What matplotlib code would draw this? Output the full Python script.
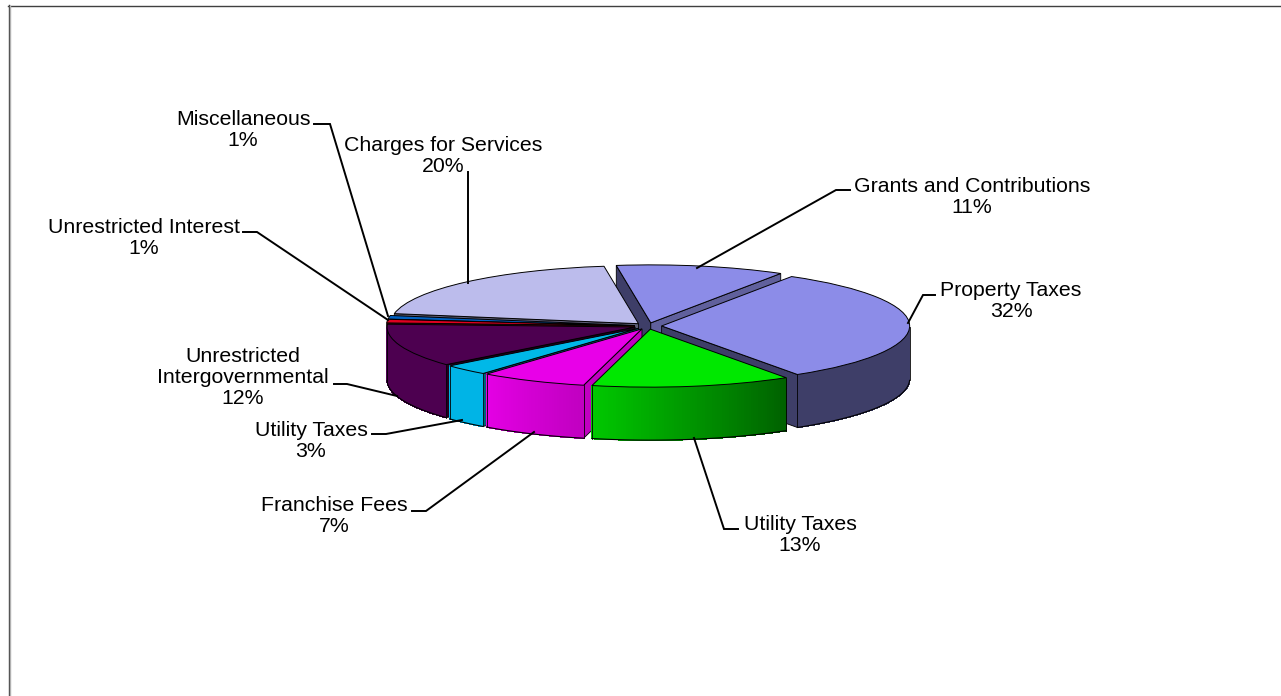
import numpy as np
import matplotlib
matplotlib.use("Agg")
import matplotlib.pyplot as plt
from matplotlib.colors import to_rgb

plt.rcParams['font.family'] = ['Liberation Sans', 'DejaVu Sans']

W, H = 1281, 696

# datos del grafico
categorias = ["Grants and Contributions", "Property Taxes", "Utility Taxes", "Franchise Fees", "Utility Taxes",
              "Unrestricted\nIntergovernmental", "Unrestricted Interest", "Miscellaneous", "Charges for Services"]
valores = [11, 32, 13, 7, 3, 12, 1, 1, 20]

# colores: tapa, pared izquierda, pared derecha, caras radiales
tapa = ["#8c8ce8", "#8c8ce8", "#00e800", "#e800e8", "#00b8e8", "#4d0050", "#e00020", "#0060c0", "#bcbcec"]
pared_izq = ["#3e3e68", "#3e3e68", "#00c800", "#e400e4", "#00b4e6", "#4d0050", "#a00010", "#004080", "#5e5e76"]
pared_der = ["#3e3e68", "#3e3e68", "#006000", "#c000c0", "#00b4e6", "#4d0050", "#a00010", "#004080", "#5e5e76"]
cara = ["#3e3e68", "#3e3e68", "#007000", "#c000c0", "#006078", "#200020", "#600010", "#002040", "#5e5e76"]
cara_fin = ["#60609c", "#3e3e68", "#007000", "#c000c0", "#006078", "#200020", "#600010", "#002040", "#5e5e76"]

# posiciones de etiquetas: centro x, y del borde superior del texto
pos_etiquetas = [(972, 177), (1011, 281), (800, 515), (334, 496), (311, 421), (243, 347), (144, 218), (243, 110), (443, 136)]
guias = [
    [(850, 190), (836, 190), (697, 268)],
    [(935, 295), (923, 295), (908, 323)],
    [(738, 529), (724, 529), (694, 438)],
    [(412, 511), (426, 511), (534, 432)],
    [(372, 434), (386, 434), (462, 420)],
    [(334, 384), (347, 384), (397, 396)],
    [(243, 232), (257, 232), (388, 320)],
    [(314, 124), (330, 124), (388, 316)],
    [(468, 172), (468, 283)],
]

cx, cy = 648, 326
a, b = 248, 58
prof = 53 / b  # profundidad en unidades del eje y
inicio = 98
sep = 0.055

fig = plt.figure(figsize=(W / 100, H / 100), dpi=100, facecolor="white")

ax = fig.add_axes([0, 0, 1, 1])
wedges, _ = ax.pie(valores, startangle=inicio, counterclock=False, explode=[sep] * len(valores), radius=1,
                   colors=tapa, wedgeprops=dict(edgecolor="black", linewidth=0.7))
ax.set_aspect("auto")
ax.set_xlim(-cx / a, (W - cx) / a)
ax.set_ylim(-(H - cy) / b, cy / b)
ax.axis("off")

fracs = np.array(valores) / sum(valores) * 360
fin = inicio - np.cumsum(fracs)
ini = fin + fracs
medio = (ini + fin) / 2

# de atras hacia adelante
orden = np.argsort(-np.sin(np.radians(medio)))
for z, i in enumerate(orden):
    dx = sep * np.cos(np.radians(medio[i]))
    dy = sep * np.sin(np.radians(medio[i]))
    base = z * 10 + 2
    wedges[i].set_zorder(base + 3)

    # caras radiales visibles
    for ang, col, visible in [(ini[i], cara[i], np.cos(np.radians(ini[i])) < 0),
                              (fin[i], cara_fin[i], np.cos(np.radians(fin[i])) > 0)]:
        if visible:
            px = dx + np.cos(np.radians(ang))
            py = dy + np.sin(np.radians(ang))
            ax.fill([dx, px, px, dx], [dy, py, py - prof, dy - prof], facecolor=col,
                    edgecolor="black", linewidth=0.6, zorder=base)

    # pared exterior, solo la parte frontal, con degradado
    t = np.linspace(ini[i], fin[i], 80)
    t = t[np.sin(np.radians(t)) < 0]
    if len(t) > 1:
        xs = dx + np.cos(np.radians(t))
        ys = dy + np.sin(np.radians(t))
        c1 = np.array(to_rgb(pared_izq[i]))
        c2 = np.array(to_rgb(pared_der[i]))
        for k in range(len(t) - 1):
            f = (k + 0.5) / (len(t) - 1)
            # t va en sentido horario: en el frente avanza de derecha a izquierda
            col = c1 + (c2 - c1) * (1 - f)
            ax.fill([xs[k], xs[k + 1], xs[k + 1], xs[k]], [ys[k], ys[k + 1], ys[k + 1] - prof, ys[k] - prof],
                    facecolor=col, edgecolor=col, linewidth=0.5, antialiased=False, zorder=base + 1)
        ax.plot(xs, ys - prof, color="black", lw=0.8, zorder=base + 2)
        ax.plot([xs[0], xs[0]], [ys[0], ys[0] - prof], color="black", lw=0.6, zorder=base + 2)
        ax.plot([xs[-1], xs[-1]], [ys[-1], ys[-1] - prof], color="black", lw=0.6, zorder=base + 2)

# capa de textos en pixeles
over = fig.add_axes([0, 0, 1, 1], facecolor="none")
over.set_xlim(0, W)
over.set_ylim(H, 0)
over.axis("off")
over.plot([8, 1281], [5.5, 5.5], color="#404040", lw=1)
over.plot([8.5, 8.5], [5, 696], color="#404040", lw=1)
over.plot([9.5, 9.5], [6, 696], color="#b0b0b0", lw=1)

for nombre, v, (x, y), g in zip(categorias, valores, pos_etiquetas, guias):
    over.text(x, y, f"{nombre}\n{v}%", ha="center", va="top", fontsize=15.3, linespacing=1.12, color="black")
    over.plot([p[0] for p in g], [p[1] for p in g], color="black", lw=1.4, solid_joinstyle="miter")

fig.savefig("out.png", dpi=100)
